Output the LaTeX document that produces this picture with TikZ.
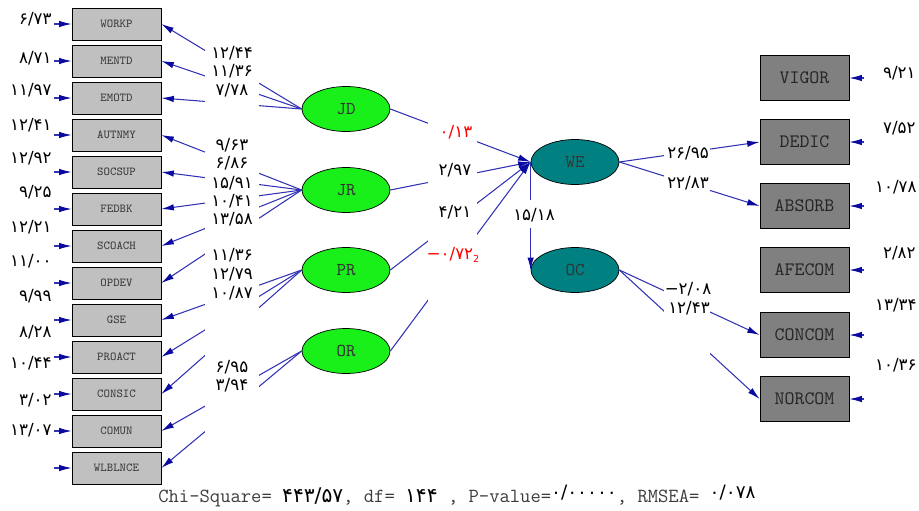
\documentclass[tikz,border=0pt]{standalone}
\usepackage{fontspec}
\newfontfamily\pfont{DejaVu Sans}
\usetikzlibrary{arrows.meta,shapes.geometric}
\definecolor{lineblue}{RGB}{50,50,180}
\definecolor{tipblue}{RGB}{10,10,160}
\definecolor{boxgray}{RGB}{192,192,192}
\definecolor{darkbox}{RGB}{128,128,128}
\definecolor{ksigreen}{RGB}{25,240,25}
\definecolor{etateal}{RGB}{0,128,128}
\definecolor{txtgray}{RGB}{60,60,60}

\begin{document}
\begin{tikzpicture}[x=0.2mm, y=-0.2mm,
    obs/.style={draw=black, fill=boxgray, minimum width=1.78cm, minimum height=0.64cm, inner sep=0pt, text=txtgray, font=\ttfamily\fontsize{6.9}{7}\selectfont},
    obsy/.style={draw=black, fill=darkbox, minimum width=1.78cm, minimum height=0.9cm, inner sep=0pt, text=black!85, font=\ttfamily\fontsize{10.8}{11}\selectfont},
    ksi/.style={ellipse, draw=black, fill=ksigreen, minimum width=1.76cm, minimum height=0.9cm, inner sep=0pt, text=black!80, font=\ttfamily\fontsize{10.3}{10}\selectfont},
    eta/.style={ksi, fill=etateal},
    lnk/.style={draw=lineblue, line width=0.6pt, -{Latex[length=2.5mm, width=1.3mm, color=tipblue]}},
    est/.style={inner sep=0pt, font=\pfont\fontsize{9.5}{10}\selectfont}]
    \useasboundingbox (0,0) rectangle (919,510);
    \node[obs] (WORKP) at (116.5, 24) {WORKP};
    \node[obs] (MENTD) at (116.5, 61) {MENTD};
    \node[obs] (EMOTD) at (116.5, 98) {EMOTD};
    \node[obs] (AUTNMY) at (116.5, 135) {AUTNMY};
    \node[obs] (SOCSUP) at (116.5, 172) {SOCSUP};
    \node[obs] (FEDBK) at (116.5, 209) {FEDBK};
    \node[obs] (SCOACH) at (116.5, 246) {SCOACH};
    \node[obs] (OPDEV) at (116.5, 283) {OPDEV};
    \node[obs] (GSE) at (116.5, 320) {GSE};
    \node[obs] (PROACT) at (116.5, 357) {PROACT};
    \node[obs] (CONSIC) at (116.5, 394) {CONSIC};
    \node[obs] (COMUN) at (116.5, 431) {COMUN};
    \node[obs] (WLBLNCE) at (116.5, 468) {WLBLNCE};
    \node[ksi] (JD) at (346, 109) {JD};
    \node[ksi] (JR) at (346, 190) {JR};
    \node[ksi] (PR) at (346, 270) {PR};
    \node[ksi] (OR) at (346, 351) {OR};
    \node[eta] (WE) at (575, 162) {WE};
    \node[eta] (OC) at (575, 270) {OC};
    \node[obsy] (VIGOR) at (804.5, 78) {VIGOR};
    \node[obsy] (DEDIC) at (804.5, 142) {DEDIC};
    \node[obsy] (ABSORB) at (804.5, 206) {ABSORB};
    \node[obsy] (AFECOM) at (804.5, 270) {AFECOM};
    \node[obsy] (CONCOM) at (804.5, 335) {CONCOM};
    \node[obsy] (NORCOM) at (804.5, 399) {NORCOM};
    \coordinate (eWORKP) at (54, 24);
    \coordinate (eMENTD) at (54, 61);
    \coordinate (eEMOTD) at (54, 98);
    \coordinate (eAUTNMY) at (54, 135);
    \coordinate (eSOCSUP) at (54, 172);
    \coordinate (eFEDBK) at (54, 209);
    \coordinate (eSCOACH) at (54, 246);
    \coordinate (eOPDEV) at (54, 283);
    \coordinate (eGSE) at (54, 320);
    \coordinate (ePROACT) at (54, 357);
    \coordinate (eCONSIC) at (54, 394);
    \coordinate (eCOMUN) at (54, 431);
    \coordinate (eWLBLNCE) at (54, 468);
    \coordinate (eVIGOR) at (864, 78);
    \coordinate (eDEDIC) at (864, 142);
    \coordinate (eABSORB) at (864, 206);
    \coordinate (eAFECOM) at (864, 270);
    \coordinate (eCONCOM) at (864, 335);
    \coordinate (eNORCOM) at (864, 399);
    \draw [lnk] (eWORKP) -- (WORKP.west);
    \draw [lnk] (eMENTD) -- (MENTD.west);
    \draw [lnk] (eEMOTD) -- (EMOTD.west);
    \draw [lnk] (eAUTNMY) -- (AUTNMY.west);
    \draw [lnk] (eSOCSUP) -- (SOCSUP.west);
    \draw [lnk] (eFEDBK) -- (FEDBK.west);
    \draw [lnk] (eSCOACH) -- (SCOACH.west);
    \draw [lnk] (eOPDEV) -- (OPDEV.west);
    \draw [lnk] (eGSE) -- (GSE.west);
    \draw [lnk] (ePROACT) -- (PROACT.west);
    \draw [lnk] (eCONSIC) -- (CONSIC.west);
    \draw [lnk] (eCOMUN) -- (COMUN.west);
    \draw [lnk] (eWLBLNCE) -- (WLBLNCE.west);
    \draw [lnk] (eVIGOR) -- (VIGOR.east);
    \draw [lnk] (eDEDIC) -- (DEDIC.east);
    \draw [lnk] (eABSORB) -- (ABSORB.east);
    \draw [lnk] (eAFECOM) -- (AFECOM.east);
    \draw [lnk] (eCONCOM) -- (CONCOM.east);
    \draw [lnk] (eNORCOM) -- (NORCOM.east);
    \draw [lnk] (JD.west) -- (WORKP.east);
    \draw [lnk] (JD.west) -- (MENTD.east);
    \draw [lnk] (JD.west) -- (EMOTD.east);
    \draw [lnk] (JR.west) -- (AUTNMY.east);
    \draw [lnk] (JR.west) -- (SOCSUP.east);
    \draw [lnk] (JR.west) -- (FEDBK.east);
    \draw [lnk] (JR.west) -- (SCOACH.east);
    \draw [lnk] (JR.west) -- (OPDEV.east);
    \draw [lnk] (PR.west) -- (GSE.east);
    \draw [lnk] (PR.west) -- (PROACT.east);
    \draw [lnk] (PR.west) -- (CONSIC.east);
    \draw [lnk] (OR.west) -- (COMUN.east);
    \draw [lnk] (OR.west) -- (WLBLNCE.east);
    \draw [lnk] (JD.east) -- (WE.west);
    \draw [lnk] (JR.east) -- (WE.west);
    \draw [lnk] (PR.east) -- (WE.west);
    \draw [lnk] (OR.east) -- (WE.west);
    \draw [lnk] (WE.west) -- (OC.west);
    \draw [lnk] (WE.east) -- (DEDIC.west);
    \draw [lnk] (WE.east) -- (ABSORB.west);
    \draw [lnk] (OC.east) -- (CONCOM.west);
    \draw [lnk] (OC.east) -- (NORCOM.west);
    \fill [white] (205, 38) rectangle (259, 442);
    \fill [white] (428, 116) rectangle (477, 306);
    \fill [white] (513, 200) rectangle (555, 228);
    \fill [white] (664, 143) rectangle (710, 358);
    \node[est, anchor=east] (tWORKP) at (52, 19) {۶/۷۳};
    \node[est, anchor=east] (tMENTD) at (52, 58) {۸/۷۱};
    \node[est, anchor=east] (tEMOTD) at (52, 90) {۱۱/۹۷};
    \node[est, anchor=east] (tAUTNMY) at (52, 125) {۱۲/۴۱};
    \node[est, anchor=east] (tSOCSUP) at (52, 158) {۱۲/۹۲};
    \node[est, anchor=east] (tFEDBK) at (52, 192) {۹/۲۵};
    \node[est, anchor=east] (tSCOACH) at (52, 227) {۱۲/۲۱};
    \node[est, anchor=east] (tOPDEV) at (52, 261) {۱۱/۰۰};
    \node[est, anchor=east] (tGSE) at (52, 296) {۹/۹۹};
    \node[est, anchor=east] (tPROACT) at (52, 332) {۸/۲۸};
    \node[est, anchor=east] (tCONSIC) at (52, 363) {۱۰/۴۴};
    \node[est, anchor=east] (tCOMUN) at (52, 400) {۳/۰۲};
    \node[est, anchor=east] (tWLBLNCE) at (52, 430) {۱۳/۰۷};
    \node[est] (lWORKP) at (232, 53) {۱۲/۴۴};
    \node[est] (lMENTD) at (232, 71) {۱۱/۳۶};
    \node[est] (lEMOTD) at (232, 90) {۷/۷۸};
    \node[est] (lAUTNMY) at (232, 145) {۹/۶۳};
    \node[est] (lSOCSUP) at (232, 163) {۶/۸۶};
    \node[est] (lFEDBK) at (232, 183) {۱۵/۹۱};
    \node[est] (lSCOACH) at (232, 201) {۱۰/۴۱};
    \node[est] (lOPDEV) at (232, 219) {۱۳/۵۸};
    \node[est] (lGSE) at (232, 255) {۱۱/۳۶};
    \node[est] (lPROACT) at (232, 274) {۱۲/۷۹};
    \node[est] (lCONSIC) at (232, 293) {۱۰/۸۷};
    \node[est] (lCOMUN) at (232, 367) {۶/۹۵};
    \node[est] (lWLBLNCE) at (232, 385) {۳/۹۴};
    \node[est, red] (gJD) at (456, 132) {۰/۱۳};
    \node[est] (gJR) at (455, 170) {۲/۹۷};
    \node[est] (gPR) at (455, 212) {۴/۲۱};
    \node[est, red] (gOR) at (453, 255) {−۰/۷۲\raisebox{-0.4ex}{\fontsize{5.5}{6}\selectfont 2}};
    \node[est] (bOC) at (534, 215) {۱۵/۱۸};
    \node[est] (lDEDIC) at (688, 153) {۲۶/۹۵};
    \node[est] (lABSORB) at (688, 183) {۲۲/۸۳};
    \node[est] (lCONCOM) at (688, 289) {−۲/۰۸};
    \node[est] (lNORCOM) at (689, 308) {۱۲/۴۳};
    \node[est, anchor=east] (tVIGOR) at (916, 73) {۹/۲۱};
    \node[est, anchor=east] (tDEDIC) at (916, 128) {۷/۵۲};
    \node[est, anchor=east] (tABSORB) at (917, 187) {۱۰/۷۸};
    \node[est, anchor=east] (tAFECOM) at (916, 253) {۲/۸۲};
    \node[est, anchor=east] (tCONCOM) at (917, 305) {۱۳/۳۴};
    \node[est, anchor=east] (tNORCOM) at (917, 365) {۱۰/۳۶};
    \node[anchor=base west, inner sep=0pt, text=txtgray, font=\ttfamily\fontsize{11.4}{12}\selectfont] (fitline) at (158, 502)
      {Chi-Square= {\pfont\fontsize{11.5}{12}\selectfont\color{black}۴۴۳/۵۷}, df= {\pfont\fontsize{11.5}{12}\selectfont\color{black}۱۴۴} , P-value={\pfont\fontsize{10.5}{11}\selectfont\color{black}\raisebox{2pt}{۰/۰۰۰۰۰}}, RMSEA= {\pfont\fontsize{10.5}{11}\selectfont\color{black}\raisebox{2pt}{۰/۰۷۸}}};
  \end{tikzpicture}
\end{document}
